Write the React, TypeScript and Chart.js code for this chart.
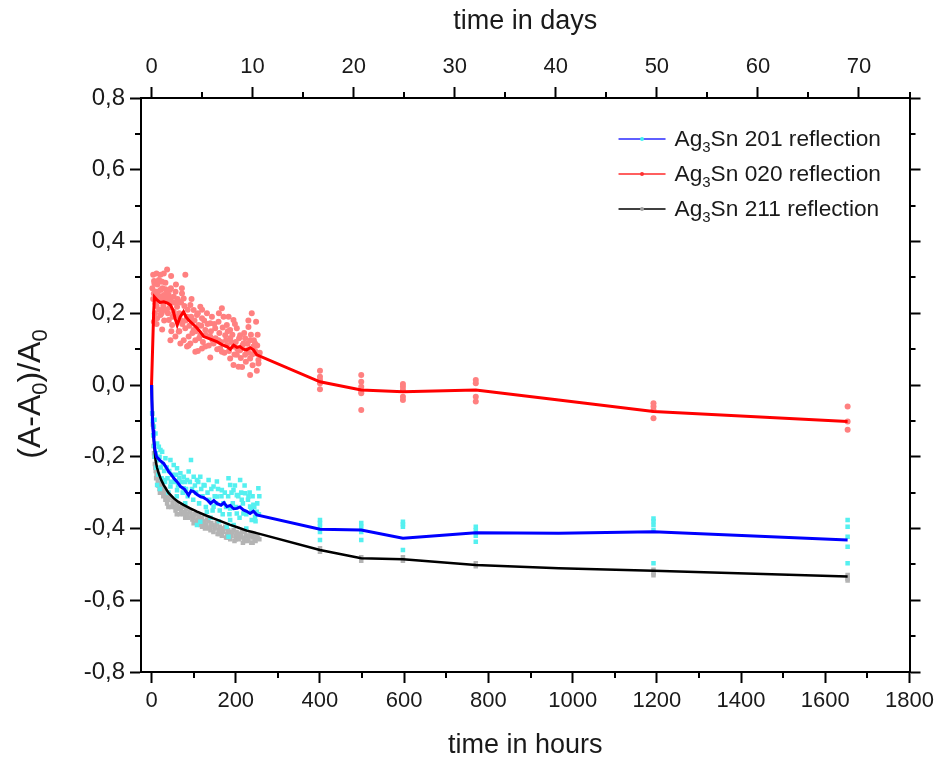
import React, { useEffect, useRef } from 'react';
import { Chart, registerables } from 'chart.js';

Chart.register(...registerables);

// ---------- axis ticks ----------
const hourTicks = [0, 200, 400, 600, 800, 1000, 1200, 1400, 1600, 1800];
const hourMinorTicks = [100, 300, 500, 700, 900, 1100, 1300, 1500, 1700];
const dayTicks = [0, 10, 20, 30, 40, 50, 60, 70];
const dayMinorTicks = [5, 15, 25, 35, 45, 55, 65, 75];
const valueTicks = [-0.8, -0.6, -0.4, -0.2, 0, 0.2, 0.4, 0.6, 0.8];
const valueMinorTicks = [-0.7, -0.5, -0.3, -0.1, 0.1, 0.3, 0.5, 0.7];
const HOUR_MIN = -25;
const HOUR_MAX = 1800;
const VALUE_MIN = -0.8;
const VALUE_MAX = 0.8;

// ---------- legend / titles ----------
const legendNames = ['201', '020', '211'];
const yTitleParts = [
  { text: '(A-A', sub: false },
  { text: '0', sub: true },
  { text: ')/A', sub: false },
  { text: '0', sub: true },
];

// ---------- smoothed lines ----------
const blueLineHours = [0, 1.6, 3.5, 5.5, 8, 12, 20, 29, 35, 41, 47, 53, 61, 69, 78, 88, 94, 100, 108, 116, 124, 132, 140, 148, 155, 165, 172, 179, 187, 195, 203, 210, 218, 226, 234, 242, 250, 400, 498, 597, 770, 967, 1192, 1653];
const blueLineValues = [0, -0.079, -0.125, -0.153, -0.18, -0.2, -0.21, -0.219, -0.23, -0.242, -0.25, -0.26, -0.27, -0.283, -0.29, -0.307, -0.295, -0.297, -0.305, -0.311, -0.314, -0.32, -0.33, -0.322, -0.33, -0.335, -0.328, -0.339, -0.336, -0.345, -0.344, -0.34, -0.348, -0.352, -0.358, -0.352, -0.362, -0.402, -0.404, -0.427, -0.412, -0.413, -0.409, -0.432];

const redLineHours = [0, 3, 5, 7, 13, 20, 29, 38, 45, 51, 56, 61, 68, 76, 82, 88, 98, 108, 116, 124, 140, 155, 168, 179, 187, 195, 203, 210, 218, 226, 234, 242, 250, 400, 498, 597, 770, 967, 1192, 1653];
const redLineValues = [0, 0.12, 0.2, 0.245, 0.237, 0.23, 0.232, 0.228, 0.223, 0.209, 0.185, 0.167, 0.19, 0.204, 0.19, 0.181, 0.17, 0.159, 0.148, 0.135, 0.128, 0.121, 0.112, 0.107, 0.1, 0.111, 0.105, 0.107, 0.1, 0.098, 0.104, 0.098, 0.084, 0.009, -0.014, -0.019, -0.014, -0.042, -0.074, -0.102];

const blackLineHours = [0, 1, 2, 4, 6.5, 9.5, 13, 17, 23, 29, 40, 53, 64, 76, 92, 108, 128, 147, 167, 187, 207, 226, 240, 250, 400, 498, 597, 770, 967, 1192, 1653];
const blackLineValues = [0, -0.04, -0.08, -0.125, -0.17, -0.209, -0.23, -0.246, -0.265, -0.279, -0.3, -0.316, -0.326, -0.334, -0.344, -0.353, -0.363, -0.372, -0.381, -0.39, -0.398, -0.406, -0.41, -0.413, -0.46, -0.483, -0.486, -0.502, -0.511, -0.518, -0.534];

// ---------- raw measurements (scatter clouds) ----------
const redDotHours = [3.9, 11.8, 21.2, 29.1, 7.0, 17.3, 25.2, 37.0, 46.5, 80.3, 5.5, 13.3, 21.2, 33.0, 43.3, 29.1, 17.3, 9.4, 25.2, 37.0, 44.9, 52.7, 72.4, 76.4, 64.6, 60.6, 52.7, 29.1, 21.2, 13.3, 25.2, 5.5, 41.0, 48.8, 68.5, 84.3, 92.2, 100.1, 115.8, 107.9, 96.1, 80.3, 64.6, 44.9, 56.7, 88.2, 100.1, 111.9, 119.8, 131.6, 143.4, 139.4, 127.7, 115.8, 104.0, 92.2, 84.3, 139.4, 151.2, 159.1, 167.0, 171.0, 178.8, 186.7, 175.0, 159.1, 147.3, 139.4, 127.7, 186.7, 194.6, 202.5, 210.4, 222.3, 230.2, 218.3, 210.4, 202.5, 186.7, 194.6, 226.2, 238.0, 248.3, 234.1, 242.0, 249.9, 234.1, 253.8, 234.1, 245.9, 222.3, 178.8, 163.1, 194.6, 206.5, 167.0, 104.0, 119.8, 76.4, 68.5,
  2, 4, 6, 8, 10, 12, 14, 16, 18, 20, 22, 24, 26, 28, 31, 33, 35, 37, 39, 41, 43, 46, 48, 50, 12, 30, 47,
  54, 57, 59, 62, 66, 70, 73, 78, 81, 86, 90, 94, 97, 102, 105, 110, 113, 118, 122, 125, 129, 133, 136, 141, 145, 149, 66, 88, 110, 58, 95, 120, 72,
  152, 156, 161, 165, 169, 173, 177, 181, 184, 189, 192, 197, 200, 204, 208, 212, 216, 220, 224, 228, 231, 236, 239, 243, 246, 251, 254, 257, 252, 240, 215, 198, 183, 160, 230, 250,
  400, 400, 400, 400, 400, 498, 498, 498, 498, 498, 498, 597, 597, 597, 597, 597, 770, 770, 770, 770, 1192, 1192, 1192, 1192, 1653, 1653, 1653];
const redDotValues = [0.307, 0.311, 0.307, 0.311, 0.283, 0.293, 0.288, 0.322, 0.304, 0.307, 0.255, 0.26, 0.265, 0.267, 0.265, 0.251, 0.241, 0.227, 0.232, 0.237, 0.241, 0.246, 0.255, 0.241, 0.232, 0.218, 0.204, 0.209, 0.195, 0.186, 0.155, 0.176, 0.181, 0.167, 0.181, 0.19, 0.223, 0.209, 0.218, 0.195, 0.176, 0.158, 0.149, 0.125, 0.135, 0.135, 0.153, 0.167, 0.186, 0.2, 0.19, 0.172, 0.153, 0.139, 0.125, 0.116, 0.107, 0.135, 0.158, 0.176, 0.214, 0.19, 0.167, 0.153, 0.139, 0.125, 0.116, 0.077, 0.107, 0.13, 0.181, 0.158, 0.139, 0.13, 0.162, 0.116, 0.097, 0.084, 0.074, 0.107, 0.097, 0.2, 0.176, 0.125, 0.107, 0.088, 0.074, 0.07, 0.028, 0.116, 0.084, 0.111, 0.102, 0.056, 0.051, 0.093, 0.093, 0.102, 0.125, 0.116,
  0.27, 0.24, 0.29, 0.2, 0.26, 0.22, 0.28, 0.25, 0.21, 0.29, 0.24, 0.2, 0.27, 0.22, 0.245, 0.285, 0.21, 0.26, 0.2, 0.25, 0.215, 0.27, 0.23, 0.19, 0.17, 0.18, 0.15,
  0.23, 0.26, 0.19, 0.24, 0.2, 0.23, 0.17, 0.22, 0.18, 0.21, 0.165, 0.19, 0.145, 0.18, 0.15, 0.2, 0.13, 0.165, 0.12, 0.18, 0.14, 0.17, 0.11, 0.15, 0.125, 0.17, 0.15, 0.11, 0.095, 0.28, 0.24, 0.21, 0.27,
  0.13, 0.1, 0.145, 0.12, 0.16, 0.09, 0.125, 0.15, 0.095, 0.12, 0.14, 0.085, 0.12, 0.1, 0.13, 0.075, 0.11, 0.145, 0.065, 0.115, 0.09, 0.14, 0.085, 0.125, 0.095, 0.11, 0.06, 0.09, 0.14, 0.055, 0.05, 0.17, 0.19, 0.2, 0.18, 0.04,
  0.04, 0.023, 0.014, 0.005, -0.012, 0.028, 0.009, -0.005, -0.019, -0.023, -0.07, 0.003, -0.005, -0.014, -0.033, -0.042, 0.014, 0.005, -0.033, -0.046, -0.051, -0.06, -0.07, -0.093, -0.06, -0.102, -0.125];

const cyanDotHours = [1.5, 5.5, 7.0, 9.4, 13.3, 17.3, 21.2, 25.2, 33.0, 44.9, 52.7, 60.6, 68.5, 93.7, 76.4, 84.3, 88.2, 100.1, 107.9, 115.8, 123.7, 135.5, 147.3, 155.2, 167.0, 182.8, 186.7, 194.6, 202.5, 210.4, 214.3, 222.3, 230.2, 234.1, 241.9, 253.7, 249.7, 245.8, 237.9, 218.2, 202.5, 186.7, 178.8, 182.8, 107.9, 115.8, 13.3, 29.1, 44.9, 60.6, 76.4, 155.2, 170.9, 186.7, 147.3, 131.5,
  3, 4, 6, 8, 10, 11, 14, 16, 19, 22, 24, 27, 30, 32, 36, 38, 42, 46, 49, 55, 58, 63, 66, 71, 74, 79, 82, 86, 91, 96, 99, 103, 106, 111, 113, 118, 121, 126, 129, 133, 137, 142, 145, 150, 153, 158, 162, 166, 169, 174, 177, 182, 185, 190, 193, 198, 201, 206, 209, 213, 217, 221, 225, 229, 233, 237, 240, 244, 247, 251, 255, 256, 20, 40, 60, 80, 140, 160, 195, 225,
  400, 400, 400, 400, 400, 498, 498, 498, 498, 597, 597, 597, 597, 770, 770, 770, 770, 1192, 1192, 1192, 1192, 1192, 1653, 1653, 1653, 1653, 1653];
const cyanDotValues = [-0.079, -0.116, -0.097, -0.135, -0.163, -0.172, -0.181, -0.186, -0.204, -0.209, -0.223, -0.232, -0.246, -0.209, -0.256, -0.265, -0.241, -0.256, -0.265, -0.256, -0.279, -0.265, -0.283, -0.269, -0.293, -0.26, -0.279, -0.293, -0.307, -0.265, -0.32, -0.302, -0.311, -0.339, -0.334, -0.288, -0.353, -0.367, -0.376, -0.358, -0.358, -0.376, -0.395, -0.423, -0.39, -0.381, -0.279, -0.265, -0.283, -0.293, -0.288, -0.311, -0.33, -0.344, -0.339, -0.353,
  -0.1, -0.14, -0.17, -0.2, -0.19, -0.23, -0.21, -0.25, -0.2, -0.23, -0.26, -0.22, -0.24, -0.27, -0.23, -0.26, -0.24, -0.27, -0.25, -0.27, -0.25, -0.28, -0.26, -0.27, -0.3, -0.27, -0.29, -0.31, -0.27, -0.29, -0.32, -0.28, -0.3, -0.27, -0.33, -0.29, -0.31, -0.28, -0.34, -0.3, -0.32, -0.29, -0.35, -0.31, -0.33, -0.29, -0.35, -0.31, -0.36, -0.3, -0.34, -0.31, -0.36, -0.3, -0.33, -0.28, -0.34, -0.31, -0.37, -0.3, -0.33, -0.28, -0.36, -0.32, -0.3, -0.35, -0.31, -0.34, -0.38, -0.33, -0.36, -0.31, -0.29, -0.3, -0.31, -0.33, -0.37, -0.38, -0.39, -0.4,
  -0.376, -0.385, -0.395, -0.41, -0.432, -0.385, -0.395, -0.41, -0.432, -0.381, -0.388, -0.395, -0.46, -0.395, -0.405, -0.42, -0.437, -0.372, -0.38, -0.39, -0.404, -0.497, -0.376, -0.395, -0.423, -0.451, -0.497];

const grayDotHours = [3, 6, 8, 10, 12, 15, 18, 22, 26, 30, 35, 40, 45, 50, 55, 60, 65, 70, 75, 80, 85, 90, 95, 100, 105, 110, 115, 120, 125, 130, 135, 140, 145, 150, 155, 160, 165, 170, 175, 180, 185, 190, 195, 200, 205, 210, 215, 220, 225, 230, 235, 240, 245, 250, 20, 40, 60, 80, 100, 120, 140, 160, 180, 200, 220, 240,
  2, 4, 5, 7, 9, 11, 13, 16, 19, 21, 24, 28, 32, 33, 37, 42, 47, 52, 57, 62, 67, 72, 77, 82, 87, 92, 97, 102, 107, 112, 117, 122, 127, 132, 137, 142, 147, 152, 157, 162, 167, 172, 177, 182, 187, 192, 197, 202, 207, 212, 217, 222, 227, 232, 237, 242, 247, 252, 256,
  400, 400, 498, 498, 597, 597, 770, 770, 1192, 1192, 1192, 1653, 1653, 1653];
const grayDotValues = [-0.11, -0.19, -0.22, -0.24, -0.25, -0.27, -0.26, -0.28, -0.29, -0.3, -0.31, -0.32, -0.315, -0.33, -0.34, -0.33, -0.345, -0.35, -0.34, -0.355, -0.36, -0.35, -0.365, -0.37, -0.36, -0.375, -0.38, -0.37, -0.385, -0.39, -0.38, -0.395, -0.39, -0.4, -0.385, -0.405, -0.4, -0.41, -0.395, -0.415, -0.41, -0.42, -0.405, -0.42, -0.415, -0.425, -0.41, -0.425, -0.42, -0.43, -0.415, -0.425, -0.43, -0.42, -0.3, -0.34, -0.36, -0.37, -0.385, -0.395, -0.405, -0.415, -0.425, -0.43, -0.435, -0.44,
  -0.08, -0.14, -0.17, -0.2, -0.23, -0.26, -0.24, -0.28, -0.29, -0.27, -0.3, -0.31, -0.29, -0.32, -0.33, -0.31, -0.34, -0.32, -0.35, -0.34, -0.36, -0.335, -0.36, -0.345, -0.37, -0.355, -0.375, -0.36, -0.38, -0.365, -0.39, -0.38, -0.4, -0.375, -0.4, -0.385, -0.41, -0.395, -0.415, -0.395, -0.42, -0.4, -0.425, -0.405, -0.43, -0.41, -0.435, -0.41, -0.43, -0.415, -0.44, -0.41, -0.435, -0.42, -0.44, -0.415, -0.435, -0.425, -0.43,
  -0.455, -0.465, -0.48, -0.49, -0.48, -0.49, -0.497, -0.505, -0.515, -0.525, -0.53, -0.53, -0.54, -0.545];

const FONT = '"Liberation Sans", Arial, sans-serif';
const TEXT = '#1a1a1a';

const pts = (xs: number[], ys: number[]) => xs.map((x, i) => ({ x, y: ys[i] }));
const fmtComma = (v: number) => (Math.abs(v) < 1e-9 ? '0,0' : v.toFixed(1).replace('.', ','));

const minorTickPlugin = {
  id: 'minorTicks',
  afterDraw(chart: any) {
    const { ctx, chartArea, scales } = chart;
    const len = 6;
    ctx.save();
    ctx.strokeStyle = '#000';
    ctx.lineWidth = 2;
    ctx.beginPath();
    hourMinorTicks.forEach((v) => {
      const px = Math.round(scales.x.getPixelForValue(v));
      ctx.moveTo(px, chartArea.bottom);
      ctx.lineTo(px, chartArea.bottom + len);
    });
    dayMinorTicks.forEach((v) => {
      const px = Math.round(scales.x2.getPixelForValue(v));
      ctx.moveTo(px, chartArea.top);
      ctx.lineTo(px, chartArea.top - len);
    });
    valueMinorTicks.forEach((v) => {
      const py = Math.round(scales.y.getPixelForValue(v));
      ctx.moveTo(chartArea.left, py);
      ctx.lineTo(chartArea.left - len, py);
      ctx.moveTo(chartArea.right, py);
      ctx.lineTo(chartArea.right + len, py);
    });
    ctx.stroke();
    ctx.restore();
  },
};

const yTitlePlugin = {
  id: 'yTitle',
  afterDraw(chart: any) {
    const { ctx, chartArea } = chart;
    const big = `32px ${FONT}`;
    const small = `22px ${FONT}`;
    ctx.save();
    let total = 0;
    yTitleParts.forEach((p) => {
      ctx.font = p.sub ? small : big;
      total += ctx.measureText(p.text).width;
    });
    const cy = (chartArea.top + chartArea.bottom) / 2 + 9;
    ctx.translate(40, cy);
    ctx.rotate(-Math.PI / 2);
    ctx.fillStyle = TEXT;
    ctx.textAlign = 'left';
    ctx.textBaseline = 'alphabetic';
    let x = -total / 2;
    yTitleParts.forEach((p) => {
      ctx.font = p.sub ? small : big;
      ctx.fillText(p.text, x, p.sub ? 7 : 0);
      x += ctx.measureText(p.text).width;
    });
    ctx.restore();
  },
};

const legendPlugin = {
  id: 'customLegend',
  afterDraw(chart: any) {
    const { ctx, chartArea } = chart;
    const lineColors = ['#2a2aff', '#ff2a2a', '#000000'];
    const markColors = ['#40f0f0', '#ff3030', '#a0a0a0'];
    ctx.save();
    legendNames.forEach((name, i) => {
      const y = chartArea.top + 41 + i * 35;
      const x0 = chartArea.right - 291;
      const x1 = chartArea.right - 244;
      ctx.strokeStyle = lineColors[i];
      ctx.lineWidth = 1.5;
      ctx.beginPath();
      ctx.moveTo(x0, y);
      ctx.lineTo(x1, y);
      ctx.stroke();
      ctx.fillStyle = markColors[i];
      ctx.beginPath();
      ctx.arc((x0 + x1) / 2, y, 2, 0, Math.PI * 2);
      ctx.fill();
      let tx = chartArea.right - 235;
      const base = y + 7;
      ctx.fillStyle = TEXT;
      ctx.textBaseline = 'alphabetic';
      ctx.textAlign = 'left';
      ctx.font = `22.7px ${FONT}`;
      ctx.fillText('Ag', tx, base);
      tx += ctx.measureText('Ag').width;
      ctx.font = `15px ${FONT}`;
      ctx.fillText('3', tx, base + 6);
      tx += ctx.measureText('3').width;
      ctx.font = `22.7px ${FONT}`;
      ctx.fillText(`Sn ${name} reflection`, tx, base);
    });
    ctx.restore();
  },
};

const axisCommon = {
  border: { display: true, color: '#000', width: 2 },
  grid: { display: true, drawOnChartArea: false, drawTicks: true, tickLength: 11, tickColor: '#000', tickWidth: 2, color: '#000' },
};

export default function App() {
  const ref = useRef<HTMLCanvasElement | null>(null);
  useEffect(() => {
    document.body.style.margin = '0';
    const canvas = ref.current;
    if (!canvas) return;
    const chart = new Chart(canvas, {
      type: 'scatter',
      data: {
        datasets: [
          { label: 'Ag3Sn 201 reflection', data: pts(blueLineHours, blueLineValues), showLine: true, borderColor: '#0000ff', backgroundColor: '#0000ff', borderWidth: 3, pointRadius: 0, order: 0 },
          { label: 'Ag3Sn 020 reflection', data: pts(redLineHours, redLineValues), showLine: true, borderColor: '#ff0000', backgroundColor: '#ff0000', borderWidth: 3, pointRadius: 0, order: 0 },
          { label: 'Ag3Sn 211 reflection', data: pts(blackLineHours, blackLineValues), showLine: true, borderColor: '#000000', backgroundColor: '#000000', borderWidth: 2.5, pointRadius: 0, order: 0 },
          { label: 'raw 201', data: pts(cyanDotHours, cyanDotValues), showLine: false, pointStyle: 'rect', pointRadius: 3.2, pointBorderWidth: 0, backgroundColor: '#55f0f0', borderColor: '#55f0f0', order: 1 },
          { label: 'raw 211', data: pts(grayDotHours, grayDotValues), showLine: false, pointStyle: 'rect', pointRadius: 3.2, pointBorderWidth: 0, backgroundColor: '#b4b4b4', borderColor: '#b4b4b4', order: 2 },
          { label: 'raw 020', data: pts(redDotHours, redDotValues), showLine: false, pointStyle: 'circle', pointRadius: 3, pointBorderWidth: 0, backgroundColor: '#ff8080', borderColor: '#ff8080', order: 1 },
        ],
      },
      options: {
        responsive: false,
        animation: false,
        layout: { padding: 0 },
        plugins: { legend: { display: false }, tooltip: { enabled: false } },
        scales: {
          x: {
            type: 'linear', position: 'bottom', min: HOUR_MIN, max: HOUR_MAX,
            ...axisCommon,
            afterBuildTicks: (s: any) => { s.ticks = hourTicks.map((v) => ({ value: v })); },
            afterFit: (s: any) => { s.height = 88; },
            ticks: { autoSkip: false, maxRotation: 0, padding: 5, color: TEXT, font: { family: FONT, size: 22 }, callback: (v: any) => String(v) },
            title: { display: true, text: 'time in hours', color: TEXT, font: { family: FONT, size: 27 }, padding: { top: 0, bottom: -2 } },
          },
          x2: {
            type: 'linear', position: 'top', min: HOUR_MIN / 24, max: HOUR_MAX / 24,
            ...axisCommon,
            afterBuildTicks: (s: any) => { s.ticks = dayTicks.map((v) => ({ value: v })); },
            afterFit: (s: any) => { s.height = 98; },
            ticks: { autoSkip: false, maxRotation: 0, padding: 7, color: TEXT, font: { family: FONT, size: 22 }, callback: (v: any) => String(v) },
            title: { display: true, text: 'time in days', color: TEXT, font: { family: FONT, size: 27 }, padding: { top: 5, bottom: 0 } },
          },
          y: {
            type: 'linear', position: 'left', min: VALUE_MIN, max: VALUE_MAX,
            ...axisCommon,
            afterBuildTicks: (s: any) => { s.ticks = valueTicks.map((v) => ({ value: v })); },
            afterFit: (s: any) => { s.width = 141; },
            ticks: { autoSkip: false, padding: 5, color: TEXT, font: { family: FONT, size: 24 }, callback: (v: any) => fmtComma(Number(v)) },
            title: { display: false },
          },
          y2: {
            type: 'linear', position: 'right', min: VALUE_MIN, max: VALUE_MAX,
            ...axisCommon,
            afterBuildTicks: (s: any) => { s.ticks = valueTicks.map((v) => ({ value: v })); },
            afterFit: (s: any) => { s.width = 27; },
            ticks: { display: false },
          },
        },
      },
      plugins: [minorTickPlugin, yTitlePlugin, legendPlugin],
    } as any);
    return () => chart.destroy();
  }, []);
  return <canvas ref={ref} width={939} height={760} style={{ display: 'block' }} />;
}
